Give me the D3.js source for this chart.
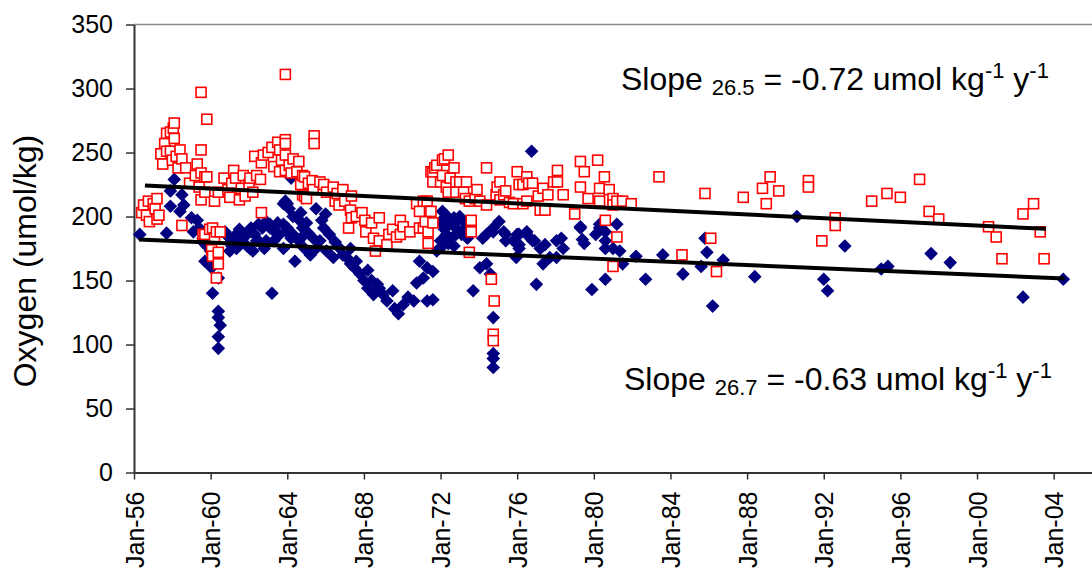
<!DOCTYPE html>
<html>
<head>
<meta charset="utf-8">
<script src="https://cdn.jsdelivr.net/npm/d3@7"></script>
<style>
  body { margin: 0; background: #fff; }
  svg { display: block; font-family: Arial, "Liberation Sans", sans-serif; }
</style>
</head>
<body>
<svg id="chart" width="1092" height="569"></svg>
<script>
// Axis ticks
const xTickYears = [1956, 1960, 1964, 1968, 1972, 1976, 1980, 1984, 1988, 1992, 1996, 2000, 2004];
const yTicks = [0, 50, 100, 150, 200, 250, 300, 350];

// Oxygen on the 26.5 isopycnal: [decimal year, umol/kg]
const sigma265 = [
  [1956.4,203],[1956.5,209],[1956.65,201],[1956.75,212],[1956.8,196],[1957.0,210],[1957.1,206],[1957.2,214],[1957.2,198],[1957.3,201],
  [1957.4,249],[1957.5,241],[1957.6,257],[1957.7,265],[1957.7,251],[1957.9,266],[1957.9,251],[1958.05,269],[1958.1,273],[1958.1,261],
  [1958.0,244],[1958.2,247],[1958.3,238],[1958.4,252],[1958.5,245],[1958.7,238],[1958.9,226],[1958.5,193],
  [1959.2,232],[1959.3,241],[1959.4,223],[1959.5,297],[1959.5,252],[1959.5,234],[1959.5,213],[1959.6,186],[1959.7,231],[1959.7,219],
  [1959.7,186],[1959.8,276],[1959.8,231],[1959.95,190],[1960.05,174],[1960.1,191],[1960.1,169],[1960.2,212],[1960.2,183],[1960.3,188],
  [1960.3,152],[1960.4,219],[1960.4,172],[1960.4,163],[1960.5,188],[1960.7,230],[1960.9,221],[1961.0,215],[1961.1,226],
  [1961.2,236],[1961.3,230],[1961.5,213],[1961.6,222],[1961.7,232],[1961.8,216],[1962.0,225],[1962.05,230],[1962.2,219],[1962.3,247],
  [1962.4,232],[1962.6,229],[1962.65,242],[1962.65,203],[1962.75,248],[1963.0,250],[1963.2,254],[1963.3,239],[1963.5,258],[1963.6,235],
  [1963.6,252],[1963.7,244],
  [1963.9,311],[1963.9,260],[1963.9,257],[1963.9,248],[1963.9,236],[1964.1,240],[1964.2,234],[1964.3,245],[1964.5,235],[1964.6,243],
  [1964.7,225],[1964.8,232],[1964.8,217],[1964.9,231],[1964.9,216],[1965.0,214],[1965.1,226],[1965.3,228],[1965.35,221],[1965.4,263],
  [1965.4,257],[1965.7,227],[1965.9,225],[1966.05,219],[1966.4,223],[1966.5,212],[1966.6,218],[1966.7,209],[1966.9,221],[1967.0,212],
  [1967.2,191],[1967.3,205],[1967.35,216],[1967.35,199],[1967.6,200],[1967.9,203],[1968.05,197],[1968.1,188],[1968.4,195],[1968.5,183],
  [1968.6,173],[1968.8,199],[1968.8,181],[1969.2,178],[1969.3,186],[1969.5,190],[1969.7,184],[1969.9,197],[1969.9,186],[1970.05,192],
  [1970.4,188],[1970.75,210],[1970.9,204],[1970.9,191],[1971.1,212],[1971.1,191],[1971.2,196],[1971.3,212],[1971.35,188],[1971.35,179],
  [1971.5,204],[1971.5,235],[1971.6,195],[1971.6,234],[1971.6,227],[1971.7,238],[1971.8,240],[1972.0,227],[1972.1,244],[1972.1,232],
  [1972.2,245],[1972.3,223],[1972.4,248],[1972.4,219],[1972.5,230],[1972.7,238],[1972.8,227],[1972.8,219],[1973.0,227],[1973.2,219],
  [1973.3,214],[1973.35,227],[1973.5,212],[1973.5,172],[1973.6,197],[1973.6,188],[1973.8,214],[1973.9,221],[1974.05,212],[1974.4,238],
  [1974.4,209],[1974.65,151],[1974.75,108],[1974.75,103],[1974.8,134],[1974.9,217],[1974.95,223],[1975.1,227],[1975.1,213],[1975.3,217],
  [1975.4,220],[1975.6,211],[1975.8,210],[1976.0,235],[1976.1,225],[1976.3,225],[1976.3,210],[1976.5,231],[1976.5,212],[1976.6,226],
  [1976.8,226],[1977.1,216],[1977.2,205],[1977.35,222],[1977.45,205],[1977.6,217],[1977.9,227],[1978.1,236],[1978.1,227],[1978.4,217],
  [1979.0,202],[1979.3,243],[1979.3,223],[1979.5,235],[1979.7,214],[1980.2,244],[1980.3,222],[1980.3,212],[1980.55,231],[1980.6,197],
  [1980.8,221],[1981.0,214],[1981.0,209],[1981.0,161],[1981.2,212],[1981.2,184],[1981.5,212],[1981.95,210],
  [1983.4,231],[1984.6,170],[1985.8,218],[1986.1,183],[1986.4,157],[1987.8,215],[1988.8,222],[1989.0,210],[1989.2,231],[1989.65,220],
  [1991.2,228],[1991.2,223],[1991.9,181],[1992.6,199],[1992.6,193],[1994.5,212],[1995.3,218],[1996.0,215],[1997.0,229],[1997.5,204],
  [1998.0,198],[2000.6,192],[2001.0,184],[2001.3,167],[2002.4,202],[2002.95,210],[2003.3,188],[2003.5,167]
];

// Oxygen on the 26.7 isopycnal: [decimal year, umol/kg]
const sigma267 = [
  [1956.3,186],[1957.7,187],[1957.9,220],[1957.9,208],[1958.1,229],[1958.4,204],[1958.5,217],[1958.6,209],
  [1959.0,199],[1959.1,188],[1959.3,197],[1959.4,191],[1959.6,183],[1959.6,180],[1959.7,165],[1959.8,177],[1960.0,173],[1960.05,160],
  [1960.1,140],[1960.4,152],[1960.4,126],[1960.4,121],[1960.5,115],[1960.4,106],[1960.4,97],
  [1960.75,188],[1960.8,186],[1961.0,183],[1961.0,173],[1961.1,177],[1961.2,184],[1961.35,186],[1961.35,175],[1961.5,190],[1961.6,181],
  [1961.9,186],[1961.9,177],[1962.05,175],[1962.1,191],[1962.2,173],[1962.3,186],[1962.4,181],[1962.5,194],[1962.5,181],[1962.7,191],
  [1962.8,175],[1962.9,196],[1962.9,181],[1963.1,191],[1963.1,194],[1963.2,140],[1963.3,181],[1963.35,188],[1963.5,195],[1963.6,186],
  [1963.8,194],[1963.8,175],[1963.8,210],[1963.9,212],[1964.0,210],
  [1964.0,191],[1964.0,188],[1964.1,206],[1964.1,186],[1964.2,230],[1964.2,183],[1964.3,200],[1964.3,186],[1964.4,165],[1964.6,181],
  [1964.7,203],[1964.7,196],[1964.7,183],[1964.8,191],[1964.9,175],[1965.0,195],[1965.1,187],[1965.2,170],[1965.35,183],[1965.5,206],
  [1965.5,175],[1965.7,181],[1965.8,197],[1965.9,191],[1966.0,202],[1966.05,173],[1966.2,186],[1966.4,168],[1966.5,180],[1966.75,175],
  [1966.9,170],[1967.1,168],[1967.3,175],[1967.3,163],[1967.5,160],[1967.6,165],[1967.8,155],[1968.0,150],[1968.2,158],[1968.2,144],
  [1968.4,150],[1968.5,139],[1968.7,147],[1968.8,144],[1969.0,139],[1969.2,134],[1969.5,142],[1969.6,128],[1969.8,124],[1970.05,131],
  [1970.3,137],[1970.6,134],[1970.75,148],[1970.9,165],[1971.1,152],[1971.3,160],[1971.3,134],[1971.6,157],[1971.6,135],[1971.8,173],
  [1972.0,181],[1972.0,196],[1972.1,204],[1972.1,194],[1972.1,177],[1972.2,190],[1972.3,201],[1972.3,186],[1972.4,196],[1972.4,179],
  [1972.5,183],[1972.6,194],[1972.7,199],[1972.7,177],[1972.8,191],[1972.8,186],[1972.9,197],[1973.0,200],[1973.1,186],[1973.2,190],
  [1973.3,195],[1973.4,183],[1973.7,142],[1974.05,160],[1974.2,183],
  [1974.4,186],[1974.4,163],[1974.6,155],[1974.75,191],[1974.75,188],[1974.75,121],[1974.75,93],[1974.75,89],[1974.75,82],[1975.05,196],
  [1975.3,188],[1975.4,181],[1975.4,186],[1975.8,181],[1975.95,168],[1976.0,186],[1976.1,186],[1976.1,178],[1976.1,175],[1976.5,188],
  [1976.5,186],[1976.75,251],[1976.8,181],[1976.9,181],[1977.0,147],[1977.2,175],[1977.35,163],[1977.45,178],[1977.7,168],[1978.05,168],
  [1978.05,181],[1978.3,183],[1978.4,175],[1979.3,191],[1979.3,192],[1979.4,182],[1979.5,179],[1979.9,143],[1980.1,186],[1980.3,194],
  [1980.3,191],[1980.6,188],[1980.6,181],[1980.6,175],[1980.6,151],[1981.0,175],[1981.2,194],[1981.35,173],[1981.5,163],[1982.2,169],
  [1982.7,151],[1983.6,170],[1984.65,155],[1985.6,161],[1985.8,183],[1985.9,172],[1986.2,130],[1986.75,166],[1988.4,153],[1990.6,200],
  [1992.0,151],[1992.2,142],[1993.1,177],[1995.0,159],[1995.35,161],[1997.6,171],[1998.6,164],[2002.4,137],[2004.5,151]
];

// Linear trends: start year, value at start, end year, slope (umol/kg per year)
const trend265 = { label: "26.5", x0: 1956.57, y0: 224.2, x1: 2003.6, slope: -0.72 };
const trend267 = { label: "26.7", x0: 1956.26, y0: 182.0, x1: 2004.57, slope: -0.63 };

const svg = d3.select("#chart");

function yearToDate(y) {
  const yr = Math.floor(y);
  const a = new Date(yr, 0, 1), b = new Date(yr + 1, 0, 1);
  return new Date(+a + (y - yr) * (b - a));
}

const x = d3.scaleTime()
  .domain([new Date(1956, 0, 1), new Date(2006, 0, 1)])
  .range([134, 1092]);
const y = d3.scaleLinear().domain([0, 350]).range([472.5, 24.5]);

// top frame edge
svg.append("line")
  .attr("x1", 134).attr("x2", 1092)
  .attr("y1", y(350)).attr("y2", y(350))
  .attr("stroke", "#888").attr("stroke-width", 1.5);

// y axis
const gy = svg.append("g")
  .attr("transform", "translate(134,0)")
  .call(d3.axisLeft(y).tickValues(yTicks).tickSize(8).tickSizeOuter(0).tickPadding(13));
gy.select(".domain").attr("stroke", "#333").attr("stroke-width", 2);
gy.selectAll(".tick line").attr("stroke", "#333").attr("stroke-width", 1.5);
gy.selectAll(".tick text").attr("font-size", 25).attr("fill", "#000")
  .attr("font-family", "Arial, 'Liberation Sans', sans-serif");

// x axis
const gx = svg.append("g")
  .attr("transform", `translate(0,${y(0)})`)
  .call(d3.axisBottom(x)
    .tickValues(xTickYears.map(v => new Date(v, 0, 1)))
    .tickFormat(d3.timeFormat("%b-%y"))
    .tickSize(7).tickSizeOuter(0));
gx.select(".domain").attr("stroke", "#333").attr("stroke-width", 2);
gx.selectAll(".tick line").attr("stroke", "#333").attr("stroke-width", 1.5);
gx.selectAll(".tick text")
  .attr("font-size", 25).attr("fill", "#000")
  .attr("font-family", "Arial, 'Liberation Sans', sans-serif")
  .attr("transform", "rotate(-90)")
  .attr("text-anchor", "end")
  .attr("x", -19).attr("y", 0).attr("dy", "0.36em");

// axis title
svg.append("text")
  .attr("transform", "translate(36,261) rotate(-90)")
  .attr("text-anchor", "middle")
  .attr("font-size", 32)
  .text("Oxygen (umol/kg)");

// 26.7 series: filled navy diamonds
const diamond = "M0,-6.8L6.8,0L0,6.8L-6.8,0Z";
svg.append("g").selectAll("path")
  .data(sigma267).join("path")
  .attr("d", diamond)
  .attr("transform", d => `translate(${x(yearToDate(d[0]))},${y(d[1])})`)
  .attr("fill", "#000080");

// 26.5 series: open red squares
svg.append("g").selectAll("rect")
  .data(sigma265).join("rect")
  .attr("x", d => x(yearToDate(d[0])) - 5)
  .attr("y", d => y(d[1]) - 5)
  .attr("width", 10).attr("height", 10)
  .attr("fill", "#fff").attr("stroke", "#ff0000").attr("stroke-width", 1.6);

// trend lines
[trend265, trend267].forEach(t => {
  const pts = [[t.x0, t.y0], [t.x1, t.y0 + t.slope * (t.x1 - t.x0)]];
  svg.append("line")
    .attr("x1", x(yearToDate(pts[0][0]))).attr("y1", y(pts[0][1]))
    .attr("x2", x(yearToDate(pts[1][0]))).attr("y2", y(pts[1][1]))
    .attr("stroke", "#000").attr("stroke-width", 4);
});

// slope annotations
function slopeLabel(t, px, py) {
  const txt = svg.append("text")
    .attr("x", px).attr("y", py)
    .attr("font-size", 32).attr("fill", "#000")
    .style("white-space", "pre");
  txt.append("tspan").text("Slope ");
  txt.append("tspan").attr("font-size", 22).attr("dy", 5).text(t.label);
  txt.append("tspan").attr("dy", -5).text(` = ${t.slope.toFixed(2)} umol kg`);
  txt.append("tspan").attr("font-size", 22).attr("dy", -12).text("-1");
  txt.append("tspan").attr("dy", 12).text(" y");
  txt.append("tspan").attr("font-size", 22).attr("dy", -12).text("-1");
}
slopeLabel(trend265, 621, 90);
slopeLabel(trend267, 624, 390);
</script>
</body>
</html>
